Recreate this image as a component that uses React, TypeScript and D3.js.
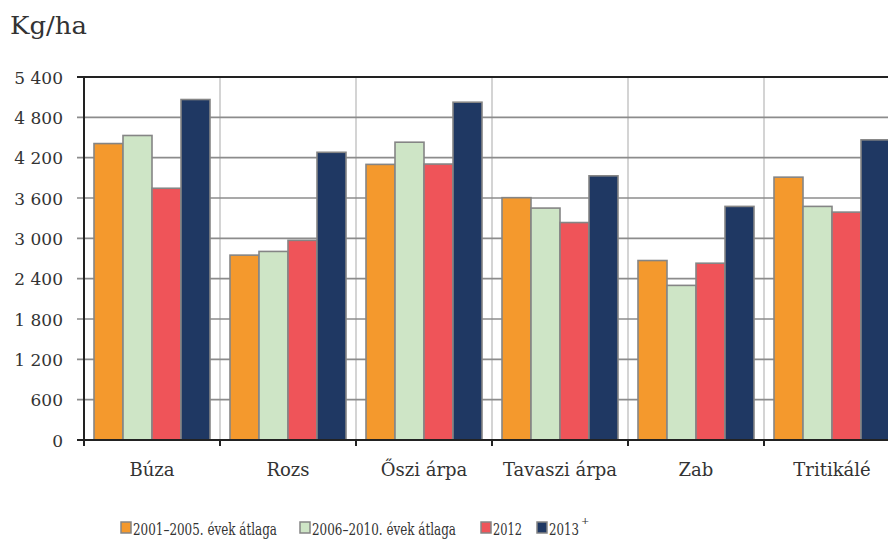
import React from "react";
import * as d3 from "d3";

const categories = ["Búza", "Rozs", "Őszi árpa", "Tavaszi árpa", "Zab", "Tritikálé"];
const seriesNames = ["2001–2005. évek átlaga", "2006–2010. évek átlaga", "2012", "2013"];
const s2001_2005 = [4410, 2750, 4100, 3605, 2670, 3910];
const s2006_2010 = [4530, 2805, 4430, 3450, 2300, 3475];
const s2012 = [3745, 2970, 4105, 3235, 2630, 3390];
const s2013 = [5065, 4280, 5025, 3930, 3475, 4465];
const seriesValues = [s2001_2005, s2006_2010, s2012, s2013];
const colors = ["#F4992D", "#CEE5C6", "#EF5459", "#1F3863"];
const yTicks = [0, 600, 1200, 1800, 2400, 3000, 3600, 4200, 4800, 5400];
const yTickLabels = ["0", "600", "1 200", "1 800", "2 400", "3 000", "3 600", "4 200", "4 800", "5 400"];
const legendWidths = [144, 144, 29, 30];

export default function App() {
  const W = 888, H = 543;
  const left = 84, right = 900, top = 77, bottom = 440;
  const x = d3.scaleBand<string>().domain(categories).range([left, right]).padding(0);
  const inner = d3.scaleBand<number>().domain([0, 1, 2, 3]).range([10, x.bandwidth() - 10]).padding(0);
  const y = d3.scaleLinear().domain([0, 5400]).range([bottom, top]);
  const font = "DejaVu Serif";
  const legendX = [121, 300, 481, 537];

  return (
    <svg width={W} height={H} style={{ position: "absolute", left: 0, top: 0, background: "#fff" }} fontFamily={font}>
      <text x={10} y={34} fontSize={24} fill="#333" textLength={77} lengthAdjust="spacingAndGlyphs">Kg/ha</text>
      {categories.map((c, i) => i > 0 && (
        <line key={"vg" + i} x1={x(c)!} x2={x(c)!} y1={top} y2={bottom} stroke="#bdbdbd" strokeWidth={1.3} />
      ))}
      {yTicks.map((t, i) => (
        <line key={"hg" + i} x1={left - 7} x2={right} y1={y(t)} y2={y(t)} stroke={t === 5400 ? "#222" : "#8c8c8c"} strokeWidth={t === 5400 ? 2 : 1.6} />
      ))}
      {categories.map((c, ci) => (
        <g key={c} transform={`translate(${x(c)},0)`}>
          {seriesValues.map((vals, si) => (
            <rect key={si} x={inner(si)!} y={y(vals[ci])} width={inner.bandwidth()} height={bottom - y(vals[ci])}
              fill={colors[si]} stroke="#858585" strokeWidth={1.6} />
          ))}
        </g>
      ))}
      <line x1={left} x2={left} y1={top - 1} y2={bottom + 6} stroke="#222" strokeWidth={2} />
      <line x1={left - 7} x2={right} y1={bottom} y2={bottom} stroke="#222" strokeWidth={2} />
      {categories.map((c, i) => i > 0 && (
        <line key={"xt" + i} x1={x(c)!} x2={x(c)!} y1={bottom} y2={bottom + 6} stroke="#222" strokeWidth={2} />
      ))}
      {yTicks.map((t, i) => (
        <text key={"yl" + i} x={63} y={y(t) + 6.5} textAnchor="end" fontSize={17} fill="#333">{yTickLabels[i]}</text>
      ))}
      {categories.map((c) => (
        <text key={"xl" + c} x={x(c)! + x.bandwidth() / 2} y={476} textAnchor="middle" fontSize={18} fill="#333">{c}</text>
      ))}
      {seriesNames.map((n, i) => (
        <g key={"lg" + i}>
          <rect x={legendX[i]} y={522} width={10} height={11} fill={colors[i]} stroke="#858585" strokeWidth={1.5} />
          <text x={legendX[i] + 12} y={535} fontSize={17} fill="#333" textLength={legendWidths[i]} lengthAdjust="spacingAndGlyphs">
            {n}
          </text>
          {i === 3 && <text x={legendX[i] + 14 + legendWidths[i]} y={524} fontSize={10} fill="#333">+</text>}
        </g>
      ))}
    </svg>
  );
}
